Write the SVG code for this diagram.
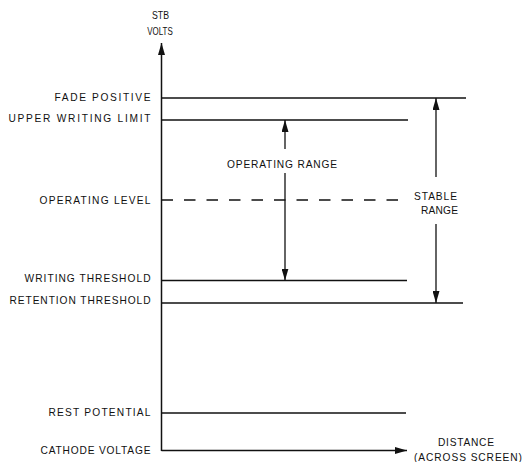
<svg xmlns="http://www.w3.org/2000/svg" width="524" height="462" viewBox="0 0 524 462">
<style>
  .t{font-family:"Liberation Sans",Arial,sans-serif;font-size:10.2px;fill:#111;}
  .r{text-anchor:end;}
  .m{text-anchor:middle;}
  .ln{stroke:#111;stroke-width:1.3;fill:none;}
  .ax{stroke:#111;stroke-width:1.5;fill:none;}
  .dash{stroke:#111;stroke-width:1.3;fill:none;stroke-dasharray:11.5 11;}
</style>
<defs>
  <marker id="ah" viewBox="0 0 12 7" refX="12" refY="3.5" markerWidth="12" markerHeight="7" markerUnits="userSpaceOnUse" orient="auto">
    <path d="M0,0 L12,3.5 L0,7 z" fill="#111"/>
  </marker>
</defs>
<rect width="524" height="462" fill="#fff"/>

<g id="axes">
  <line class="ax" x1="161.5" y1="451" x2="161.5" y2="43" marker-end="url(#ah)"/>
  <line class="ax" x1="161.5" y1="450.5" x2="407" y2="450.5" marker-end="url(#ah)"/>
  <text class="t m" x="160.5" y="19" textLength="17" lengthAdjust="spacingAndGlyphs">STB</text>
  <text class="t m" x="160" y="34.5" textLength="25.5" lengthAdjust="spacingAndGlyphs">VOLTS</text>
  <text class="t m" x="466" y="445.5" textLength="56" lengthAdjust="spacing">DISTANCE</text>
  <text class="t m" x="468" y="460.5" textLength="108" lengthAdjust="spacing">(ACROSS SCREEN)</text>
</g>

<g id="fade-positive">
  <line class="ln" x1="161.5" y1="98" x2="466" y2="98"/>
  <text class="t r" x="150.5" y="101" textLength="96" lengthAdjust="spacing">FADE POSITIVE</text>
</g>
<g id="upper-writing-limit">
  <line class="ln" x1="161.5" y1="120" x2="408" y2="120"/>
  <text class="t r" x="150.5" y="122" textLength="142" lengthAdjust="spacing">UPPER WRITING LIMIT</text>
</g>
<g id="operating-level">
  <line class="dash" x1="161.5" y1="200" x2="398" y2="200"/>
  <text class="t r" x="150.5" y="204.3" textLength="111" lengthAdjust="spacing">OPERATING LEVEL</text>
</g>
<g id="writing-threshold">
  <line class="ln" x1="161.5" y1="280.5" x2="407" y2="280.5"/>
  <text class="t r" x="150.5" y="281.8" textLength="126" lengthAdjust="spacing">WRITING THRESHOLD</text>
</g>
<g id="retention-threshold">
  <line class="ln" x1="161.5" y1="303" x2="463" y2="303"/>
  <text class="t r" x="150.5" y="303.8" textLength="141" lengthAdjust="spacing">RETENTION THRESHOLD</text>
</g>
<g id="rest-potential">
  <line class="ln" x1="161.5" y1="413" x2="406" y2="413"/>
  <text class="t r" x="150.5" y="415.8" textLength="102" lengthAdjust="spacing">REST POTENTIAL</text>
</g>
<g id="cathode-voltage">
  <text class="t r" x="150.5" y="453.8" textLength="110" lengthAdjust="spacing">CATHODE VOLTAGE</text>
</g>

<g id="connectors">
  <line class="ln" x1="285" y1="149" x2="285" y2="120" marker-end="url(#ah)"/>
  <line class="ln" x1="285" y1="173" x2="285" y2="280.5" marker-end="url(#ah)"/>
  <line class="ln" x1="436" y1="177" x2="436" y2="98" marker-end="url(#ah)"/>
  <line class="ln" x1="436" y1="224" x2="436" y2="303" marker-end="url(#ah)"/>
</g>

<g id="operating-range">
  <text class="t m" x="282" y="167.8" textLength="110" lengthAdjust="spacing">OPERATING RANGE</text>
</g>
<g id="stable-range">
  <text class="t m" x="435.5" y="199.8" textLength="43" lengthAdjust="spacing">STABLE</text>
  <text class="t m" x="439.5" y="214.3" textLength="37" lengthAdjust="spacing">RANGE</text>
</g>
</svg>
